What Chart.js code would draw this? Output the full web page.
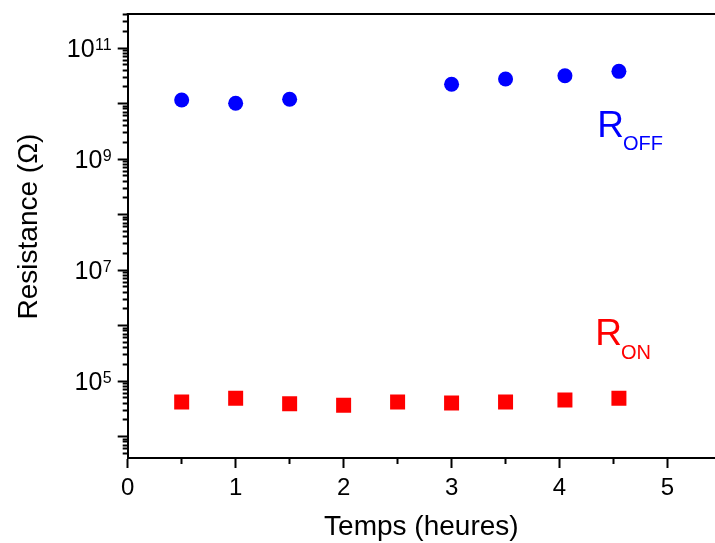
<!DOCTYPE html>
<html>
<head>
<meta charset="utf-8">
<script src="https://cdn.jsdelivr.net/npm/chart.js@4.4.1/dist/chart.umd.min.js"></script>
<style>
html,body{margin:0;padding:0;background:#ffffff;}
#wrap{width:715px;height:543px;position:relative;}
</style>
</head>
<body>
<div id="wrap"><canvas id="c"></canvas></div>
<script>
// ---- data ----
const timesOff = [0.5, 1, 1.5, 3, 3.5, 4.05, 4.55];
const rOff     = [1.16e10, 1.01e10, 1.19e10, 2.22e10, 2.76e10, 3.17e10, 3.80e10];
const timesOn  = [0.5, 1, 1.5, 2, 2.5, 3, 3.5, 4.05, 4.55];
const rOn      = [4.19e4, 4.88e4, 3.90e4, 3.65e4, 4.19e4, 4.02e4, 4.19e4, 4.55e4, 4.88e4];

// ---- ticks ----
const xTickValues = [0, 0.5, 1, 1.5, 2, 2.5, 3, 3.5, 4, 4.5, 5];
const xTickLabels = ['0', '', '1', '', '2', '', '3', '', '4', '', '5'];
const yDecadeExps = [3, 4, 5, 6, 7, 8, 9, 10, 11];
const yMinorMults = [2, 3, 4, 5, 6, 7, 8, 9];
const yLabelExps  = [5, 7, 9, 11];

// ---- texts ----
const xTitle = 'Temps (heures)';
const yTitle = 'Resistance (\u03A9)';
const seriesNames = ['OFF', 'ON'];

const FONT = '"Liberation Sans", Arial, Helvetica, sans-serif';
const Y_MIN = 4.1e3, Y_MAX = 4.1e11;

const yTickValues = [];
yDecadeExps.forEach(e => {
  const base = Math.pow(10, e);
  [1].concat(yMinorMults).forEach(m => {
    const v = m * base;
    if (v >= Y_MIN && v <= Y_MAX) yTickValues.push(v);
  });
});

function isDecade(v) {
  const l = Math.log10(v);
  return Math.abs(l - Math.round(l)) < 1e-9;
}

const framePlugin = {
  id: 'frameTop',
  afterDraw(chart) {
    const {ctx, chartArea} = chart;
    ctx.save();
    ctx.strokeStyle = '#000';
    ctx.lineWidth = 2;
    ctx.beginPath();
    ctx.moveTo(chartArea.left - 1, chartArea.top);
    ctx.lineTo(chartArea.right, chartArea.top);
    ctx.stroke();
    ctx.restore();
  }
};

// y-axis title (drawn slightly above the plot's vertical centre, as in the reference)
const yTitlePlugin = {
  id: 'yTitle',
  afterDraw(chart) {
    const {ctx, chartArea} = chart;
    ctx.save();
    ctx.translate(29, (chartArea.top + chartArea.bottom) / 2 - 9.5);
    ctx.rotate(-Math.PI / 2);
    ctx.fillStyle = '#000';
    ctx.font = '28px ' + FONT;
    ctx.textAlign = 'center';
    ctx.textBaseline = 'middle';
    ctx.fillText(yTitle, 0, 0);
    ctx.restore();
  }
};

const yLabelPlugin = {
  id: 'yPowerLabels',
  afterDraw(chart) {
    const ctx = chart.ctx;
    const ys = chart.scales.y;
    const expRight = chart.chartArea.left - 16;
    ctx.save();
    ctx.fillStyle = '#000';
    ctx.textBaseline = 'alphabetic';
    yLabelExps.forEach(e => {
      const py = ys.getPixelForValue(Math.pow(10, e));
      const s = String(e);
      ctx.font = '16px ' + FONT;
      const ew = ctx.measureText(s).width;
      ctx.textAlign = 'left';
      ctx.fillText(s, expRight - ew, py + 2);
      ctx.font = '25px ' + FONT;
      ctx.textAlign = 'right';
      ctx.fillText('10', expRight - ew - 0.5, py + 9);
    });
    ctx.restore();
  }
};

const seriesLabelPlugin = {
  id: 'seriesLabels',
  afterDatasetsDraw(chart, args, opts) {
    const ctx = chart.ctx;
    const xs = chart.scales.x, ys = chart.scales.y;
    ctx.save();
    ctx.textAlign = 'left';
    ctx.textBaseline = 'alphabetic';
    opts.items.forEach(it => {
      const px = xs.getPixelForValue(it.x);
      const py = ys.getPixelForValue(it.y);
      ctx.fillStyle = it.color;
      ctx.font = '37px ' + FONT;
      ctx.fillText('R', px, py);
      const w = ctx.measureText('R').width;
      ctx.font = '20px ' + FONT;
      ctx.fillText(it.sub, px + w - 1, py + it.drop);
    });
    ctx.restore();
  }
};

// left axis ticks run outward->axis, bottom axis ticks run axis->outward
const yTickDash = (isMajor) => isMajor ? [] : [0, 5, 5, 100];
const xTickDash = (isMajor) => isMajor ? [] : [5, 100];

new Chart(document.getElementById('c'), {
  type: 'scatter',
  data: {
    datasets: [
      {
        label: 'R' + seriesNames[0],
        data: timesOff.map((t, i) => ({x: t, y: rOff[i]})),
        pointStyle: 'circle',
        pointRadius: 7.5,
        pointHoverRadius: 7.5,
        backgroundColor: '#0000ff',
        borderColor: '#0000ff',
        borderWidth: 0,
        showLine: false
      },
      {
        label: 'R' + seriesNames[1],
        data: timesOn.map((t, i) => ({x: t, y: rOn[i]})),
        pointStyle: 'rect',
        pointRadius: 10.6,
        pointHoverRadius: 10.6,
        backgroundColor: '#ff0000',
        borderColor: '#ff0000',
        borderWidth: 0,
        showLine: false
      }
    ]
  },
  options: {
    responsive: true,
    maintainAspectRatio: false,
    animation: false,
    events: [],
    layout: {autoPadding: false, padding: {top: 14, right: 0, bottom: 0, left: 0}},
    plugins: {
      legend: {display: false},
      tooltip: {enabled: false},
      seriesLabels: {
        items: [
          {sub: seriesNames[0], x: 4.35, y: 2.52e9, drop: 13.5, color: '#0000ff'},
          {sub: seriesNames[1], x: 4.33, y: 4.45e5, drop: 14, color: '#ff0000'}
        ]
      }
    },
    scales: {
      x: {
        type: 'linear',
        position: 'bottom',
        min: 0,
        max: 5.44,
        afterBuildTicks: (scale) => { scale.ticks = xTickValues.map(v => ({value: v})); },
        afterFit: (scale) => { scale.height = 85; },
        ticks: {
          padding: 6,
          color: '#000',
          font: {family: FONT, size: 24},
          maxRotation: 0,
          autoSkip: false,
          callback: (v) => {
            const i = xTickValues.findIndex(t => Math.abs(t - v) < 1e-9);
            return i >= 0 ? xTickLabels[i] : '';
          }
        },
        grid: {
          display: true,
          drawOnChartArea: false,
          drawTicks: true,
          tickLength: 10,
          tickWidth: 2,
          tickColor: '#000',
          tickBorderDash: (ctx) => xTickDash(ctx.tick && Math.abs(ctx.tick.value - Math.round(ctx.tick.value)) < 1e-9)
        },
        border: {display: true, color: '#000', width: 2},
        title: {
          display: true,
          text: xTitle,
          color: '#000',
          font: {family: FONT, size: 28},
          padding: {top: 0, bottom: -1}
        }
      },
      y: {
        type: 'logarithmic',
        position: 'left',
        min: Y_MIN,
        max: Y_MAX,
        afterBuildTicks: (scale) => { scale.ticks = yTickValues.map(v => ({value: v})); },
        afterFit: (scale) => { scale.width = 127.7; },
        ticks: {
          color: '#000',
          font: {family: FONT, size: 1},
          padding: 0,
          autoSkip: false,
          callback: () => ''
        },
        grid: {
          display: true,
          drawOnChartArea: false,
          drawTicks: true,
          tickLength: 10,
          tickWidth: 2,
          tickColor: '#000',
          tickBorderDash: (ctx) => yTickDash(ctx.tick && isDecade(ctx.tick.value))
        },
        border: {display: true, color: '#000', width: 2},
        title: {display: false, text: yTitle}
      }
    }
  },
  plugins: [framePlugin, yTitlePlugin, yLabelPlugin, seriesLabelPlugin]
});
</script>
</body>
</html>
